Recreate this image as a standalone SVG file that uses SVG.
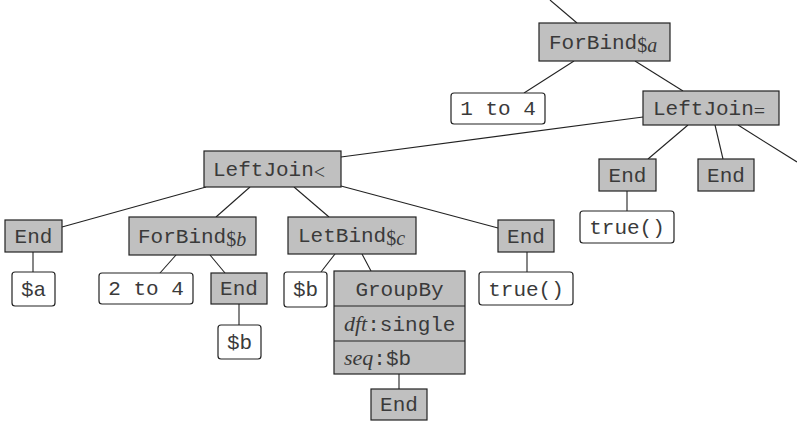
<svg xmlns="http://www.w3.org/2000/svg" width="797" height="422" viewBox="0 0 797 422">
  <style>
    .op { fill: #c0c0c0; stroke: #222; stroke-width: 1.2; }
    .val { fill: #ffffff; stroke: #222; stroke-width: 1.2; }
    .t { font-family: "Liberation Mono", "DejaVu Sans Mono", monospace; font-size: 21px; fill: #3a3a3a; }
    .c { text-anchor: middle; }
    .sub { font-family: "Liberation Serif", "DejaVu Serif", serif; font-size: 20px; }
    .lbl { font-family: "Liberation Serif", "DejaVu Serif", serif; font-size: 22px; font-style: italic; }
    .it { font-style: italic; }
    .edges line { stroke: #222; stroke-width: 1.1; }
  </style>
  <rect width="797" height="422" fill="#ffffff"/>

  <!-- tree edges -->
  <g id="edges" class="edges">
    <line x1="550" y1="0" x2="577" y2="23"/>
    <line x1="574" y1="61" x2="524" y2="93"/>
    <line x1="635" y1="61" x2="683" y2="91"/>
    <line x1="643" y1="117" x2="341" y2="157"/>
    <line x1="688" y1="125" x2="648" y2="159"/>
    <line x1="715" y1="125" x2="723" y2="159"/>
    <line x1="738" y1="125" x2="797" y2="162"/>
    <line x1="627" y1="191" x2="627" y2="211"/>
    <line x1="206" y1="187" x2="62" y2="227"/>
    <line x1="250" y1="187" x2="216" y2="217"/>
    <line x1="294" y1="187" x2="329" y2="217"/>
    <line x1="341" y1="186" x2="498" y2="228"/>
    <line x1="33" y1="252" x2="33" y2="272"/>
    <line x1="176" y1="255" x2="160" y2="273"/>
    <line x1="210" y1="255" x2="225" y2="273"/>
    <line x1="239" y1="304" x2="239" y2="325"/>
    <line x1="335" y1="254" x2="321" y2="272"/>
    <line x1="362" y1="254" x2="371" y2="271"/>
    <line x1="399" y1="374" x2="399" y2="389"/>
    <line x1="527" y1="252" x2="527" y2="272"/>
  </g>

  <g id="forbind-a">
    <rect class="op" x="539" y="23" width="131" height="38"/>
    <text class="t" x="549" y="49">ForBind<tspan class="sub" dy="3">$<tspan class="it">a</tspan></tspan></text>
  </g>
  <g id="range-1-4">
    <rect class="val" x="451" y="93" width="94" height="31" rx="3"/>
    <text class="t c" x="498" y="115">1 to 4</text>
  </g>
  <g id="leftjoin-eq">
    <rect class="op" x="643" y="91" width="136" height="34"/>
    <text class="t" x="653" y="115">LeftJoin<tspan class="sub" dy="3">=</tspan></text>
  </g>
  <g id="end-1">
    <rect class="op" x="599" y="159" width="57" height="32"/>
    <text class="t c" x="627.5" y="182">End</text>
  </g>
  <g id="end-2">
    <rect class="op" x="698" y="159" width="56" height="32"/>
    <text class="t c" x="726" y="182">End</text>
  </g>
  <g id="true-1">
    <rect class="val" x="580" y="211" width="94" height="32" rx="3"/>
    <text class="t c" x="627" y="234">true()</text>
  </g>

  <g id="leftjoin-lt">
    <rect class="op" x="204" y="151" width="137" height="36"/>
    <text class="t" x="213" y="176">LeftJoin<tspan class="sub" dy="3">&lt;</tspan></text>
  </g>
  <g id="end-a">
    <rect class="op" x="5" y="220" width="57" height="32"/>
    <text class="t c" x="33.5" y="243">End</text>
  </g>
  <g id="var-a">
    <rect class="val" x="12" y="272" width="43" height="34" rx="3"/>
    <text class="t c" x="33.5" y="296">$a</text>
  </g>
  <g id="forbind-b">
    <rect class="op" x="129" y="217" width="127" height="38"/>
    <text class="t" x="138" y="243">ForBind<tspan class="sub" dy="3">$<tspan class="it">b</tspan></tspan></text>
  </g>
  <g id="range-2-4">
    <rect class="val" x="99" y="273" width="94" height="31" rx="3"/>
    <text class="t c" x="146" y="295">2 to 4</text>
  </g>
  <g id="end-b">
    <rect class="op" x="211" y="273" width="56" height="31"/>
    <text class="t c" x="239" y="295">End</text>
  </g>
  <g id="var-b-1">
    <rect class="val" x="218" y="325" width="43" height="34" rx="3"/>
    <text class="t c" x="239.5" y="349">$b</text>
  </g>
  <g id="letbind-c">
    <rect class="op" x="288" y="217" width="128" height="37"/>
    <text class="t" x="298" y="242">LetBind<tspan class="sub" dy="3">$<tspan class="it">c</tspan></tspan></text>
  </g>
  <g id="var-b-2">
    <rect class="val" x="284" y="272" width="43" height="35" rx="3"/>
    <text class="t c" x="305.5" y="296">$b</text>
  </g>
  <g id="groupby">
    <rect class="op" x="334" y="271" width="131" height="103"/>
    <line x1="334" y1="306" x2="465" y2="306" stroke="#222" stroke-width="1.2"/>
    <line x1="334" y1="341" x2="465" y2="341" stroke="#222" stroke-width="1.2"/>
    <text class="t c" x="399.5" y="296">GroupBy</text>
    <text class="t" x="344" y="331"><tspan class="lbl">dft</tspan>:single</text>
    <text class="t" x="344" y="365"><tspan class="lbl">seq</tspan>:$b</text>
  </g>
  <g id="end-groupby">
    <rect class="op" x="371" y="389" width="56" height="31"/>
    <text class="t c" x="399" y="411">End</text>
  </g>
  <g id="end-c">
    <rect class="op" x="498" y="220" width="56" height="32"/>
    <text class="t c" x="526" y="243">End</text>
  </g>
  <g id="true-2">
    <rect class="val" x="479" y="272" width="94" height="33" rx="3"/>
    <text class="t c" x="526" y="296">true()</text>
  </g>
</svg>
